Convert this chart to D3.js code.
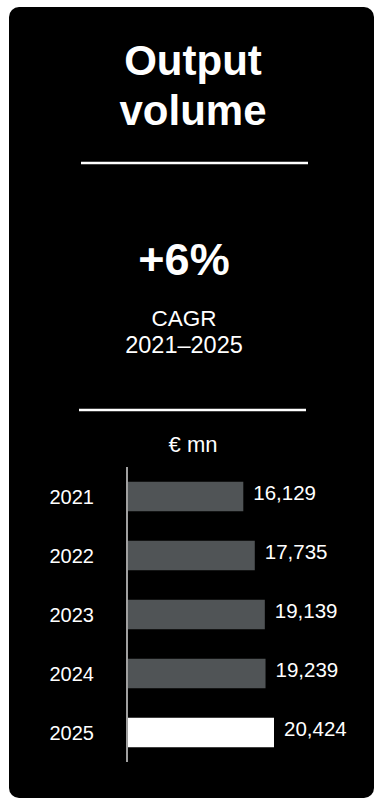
<!DOCTYPE html>
<html>
<head>
<meta charset="utf-8">
<script src="https://cdn.jsdelivr.net/npm/d3@7"></script>
<style>
  body { margin: 0; background: #fff; }
  svg { display: block; font-family: "Liberation Sans", Arial, sans-serif; }
</style>
</head>
<body>
<svg width="375" height="799"></svg>
<script>
  // data
  var years = ['2021', '2022', '2023', '2024', '2025'];
  var values = [16129, 17735, 19139, 19239, 20424];
  var titleLines = ['Output', 'volume'];
  var cagr = '+6%';
  var cagrLines = ['CAGR', '2021\u20132025'];
  var unit = '\u20ac mn';

  var svg = d3.select('svg');

  // black card
  svg.append('rect')
    .attr('x', 9).attr('y', 7)
    .attr('width', 365).attr('height', 791)
    .attr('rx', 10)
    .attr('fill', '#000');

  svg.selectAll('text.title').data(titleLines)
    .enter().append('text')
      .attr('class', 'title')
      .attr('x', 193)
      .attr('y', function (d, i) { return 75 + i * 50; })
      .attr('text-anchor', 'middle')
      .attr('fill', '#fff')
      .attr('font-size', 42)
      .attr('font-weight', 'bold')
      .text(function (d) { return d; });

  svg.append('line')
    .attr('x1', 81).attr('x2', 308)
    .attr('y1', 163).attr('y2', 163)
    .attr('stroke', '#fff').attr('stroke-width', 2.5);

  svg.append('text')
    .attr('x', 184).attr('y', 275)
    .attr('text-anchor', 'middle')
    .attr('fill', '#fff')
    .attr('font-size', 45)
    .attr('font-weight', 'bold')
    .text(cagr);

  svg.selectAll('text.cagr').data(cagrLines)
    .enter().append('text')
      .attr('class', 'cagr')
      .attr('x', 184)
      .attr('y', function (d, i) { return 326 + i * 27; })
      .attr('text-anchor', 'middle')
      .attr('fill', '#fff')
      .attr('font-size', function (d, i) { return i ? 23.5 : 22.5; })
      .text(function (d) { return d; });

  svg.append('line')
    .attr('x1', 79).attr('x2', 306)
    .attr('y1', 410).attr('y2', 410)
    .attr('stroke', '#fff').attr('stroke-width', 2.5);

  svg.append('text')
    .attr('x', 193).attr('y', 452)
    .attr('text-anchor', 'middle')
    .attr('fill', '#fff')
    .attr('font-size', 22)
    .text(unit);

  // bars
  var y = d3.scaleBand().domain(years).range([467, 762])
    .paddingInner(0.5).paddingOuter(0.25);
  var x = d3.scaleLinear().domain([0, d3.max(values)]).range([128, 274]);
  var fmt = d3.format(',');

  var rows = years.map(function (yr, i) { return {year: yr, value: values[i]}; });

  svg.selectAll('rect.bar').data(rows)
    .enter().append('rect')
      .attr('class', 'bar')
      .attr('x', x(0))
      .attr('y', function (d) { return y(d.year); })
      .attr('width', function (d) { return x(d.value) - x(0); })
      .attr('height', y.bandwidth())
      .attr('fill', function (d, i) { return i === rows.length - 1 ? '#fff' : '#505456'; });

  svg.append('line')
    .attr('x1', 127).attr('x2', 127)
    .attr('y1', y.range()[0]).attr('y2', y.range()[1])
    .attr('stroke', '#a0a0a0').attr('stroke-width', 2);

  svg.selectAll('text.year').data(rows)
    .enter().append('text')
      .attr('class', 'year')
      .attr('x', 94)
      .attr('y', function (d) { return y(d.year) + y.bandwidth() / 2; })
      .attr('dy', '0.36em')
      .attr('text-anchor', 'end')
      .attr('fill', '#fff')
      .attr('font-size', 20)
      .text(function (d) { return d.year; });

  svg.selectAll('text.val').data(rows)
    .enter().append('text')
      .attr('class', 'val')
      .attr('x', function (d) { return x(d.value) + 10; })
      .attr('y', function (d) { return y(d.year) + y.bandwidth() / 2 - 4; })
      .attr('dy', '0.36em')
      .attr('fill', '#fff')
      .attr('font-size', 20.5)
      .text(function (d) { return fmt(d.value); });
</script>
</body>
</html>
